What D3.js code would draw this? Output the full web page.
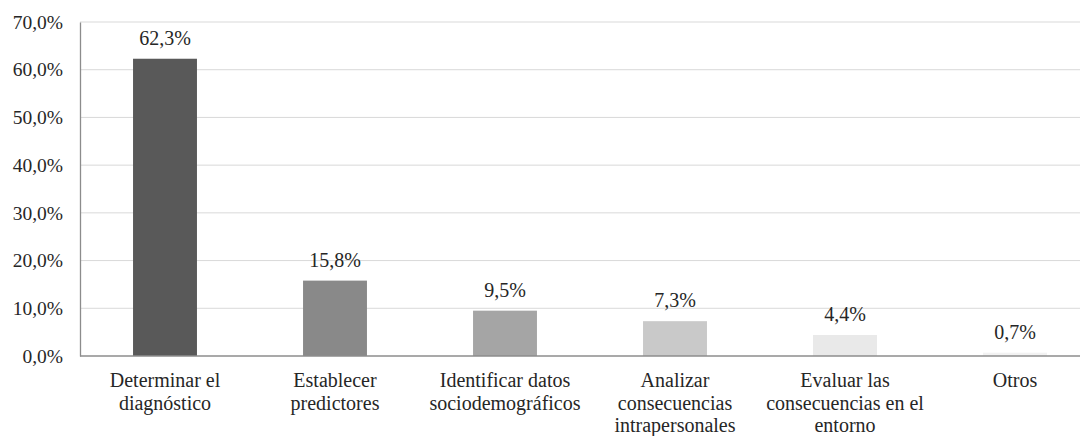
<!DOCTYPE html>
<html>
<head>
<meta charset="utf-8">
<script src="https://cdn.jsdelivr.net/npm/d3@7"></script>
<style>
  html, body { margin: 0; padding: 0; background: #fff; overflow: hidden; }
</style>
</head>
<body>
<svg id="chart" width="1080" height="436"></svg>
<script>
// Objetivos del uso de datos (porcentaje de estudios)
const categories = [
  ["Determinar el", "diagnóstico"],
  ["Establecer", "predictores"],
  ["Identificar datos", "sociodemográficos"],
  ["Analizar", "consecuencias", "intrapersonales"],
  ["Evaluar las", "consecuencias en el", "entorno"],
  ["Otros"]
];
const values = [62.3, 15.8, 9.5, 7.3, 4.4, 0.7];
const barColors = ["#595959", "#898989", "#a5a5a5", "#c9c9c9", "#e9e9e9", "#f2f2f2"];
const yTicks = [0, 10, 20, 30, 40, 50, 60, 70];

const FONT = "Liberation Serif, Times New Roman, DejaVu Serif, serif";
const TEXT_COLOR = "#262626";

const locale = d3.formatLocale({ decimal: ",", thousands: ".", grouping: [3], currency: ["", "€"] });
const pct = v => locale.format(".1f")(v) + "%";

const margin = { left: 80, top: 22, bottom: 80 };
const width = 1020, height = 436 - margin.top - margin.bottom;

const svg = d3.select("#chart");
const g = svg.append("g").attr("transform", `translate(${margin.left},${margin.top})`);

const x = d3.scaleBand().domain(d3.range(values.length)).range([0, width]).paddingInner(0.624).paddingOuter(0.312);
const y = d3.scaleLinear().domain([0, 70]).range([height, 0]);

// horizontal gridlines
g.append("g")
  .selectAll("line")
  .data(yTicks.filter(t => t > 0))
  .join("line")
  .attr("x1", 0).attr("x2", width)
  .attr("y1", d => y(d)).attr("y2", d => y(d))
  .attr("stroke", "#d9d9d9").attr("stroke-width", 1);

// y axis
const yAxis = g.append("g")
  .call(d3.axisLeft(y).tickValues(yTicks).tickFormat(pct).tickSize(0).tickPadding(17));
yAxis.select(".domain").attr("stroke", "#8c8c8c").attr("stroke-width", 1.3);
yAxis.selectAll("text")
  .style("font-family", FONT)
  .style("font-size", "19.5px")
  .attr("fill", TEXT_COLOR);

// bars
g.append("g")
  .selectAll("rect")
  .data(values)
  .join("rect")
  .attr("x", (d, i) => x(i))
  .attr("width", x.bandwidth())
  .attr("y", d => y(d))
  .attr("height", d => y(0) - y(d))
  .attr("fill", (d, i) => barColors[i]);

// value labels
g.append("g")
  .selectAll("text")
  .data(values)
  .join("text")
  .attr("x", (d, i) => x(i) + x.bandwidth() / 2)
  .attr("y", d => y(d) - 14)
  .attr("text-anchor", "middle")
  .style("font-family", FONT)
  .style("font-size", "20px")
  .attr("fill", TEXT_COLOR)
  .text(d => pct(d));

// x axis baseline
g.append("line")
  .attr("x1", 0).attr("x2", width)
  .attr("y1", y(0)).attr("y2", y(0))
  .attr("stroke", "#8c8c8c").attr("stroke-width", 1.3);

// category labels
const catG = g.append("g")
  .selectAll("text")
  .data(categories)
  .join("text")
  .attr("x", (d, i) => x(i) + x.bandwidth() / 2)
  .attr("y", y(0) + 31)
  .attr("text-anchor", "middle")
  .style("font-family", FONT)
  .style("font-size", "20px")
  .attr("fill", TEXT_COLOR);
catG.selectAll("tspan")
  .data(d => d)
  .join("tspan")
  .attr("x", function () { return d3.select(this.parentNode).attr("x"); })
  .attr("dy", (d, i) => i === 0 ? 0 : 22.5)
  .text(d => d);
</script>
</body>
</html>
